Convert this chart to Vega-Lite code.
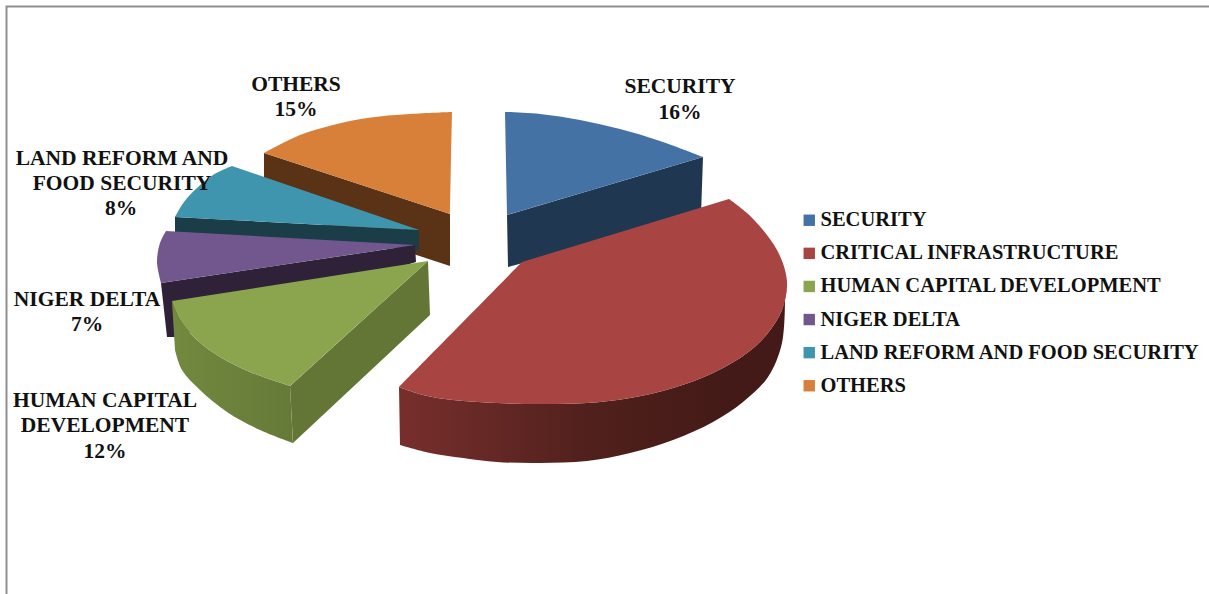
{
  "$schema": "https://vega.github.io/schema/vega-lite/v6.json",
  "width": 1209,
  "height": 594,
  "padding": 0,
  "autosize": "none",
  "background": "#ffffff",
  "view": {"stroke": null},
  "config": {"text": {"font": "Liberation Serif", "fontWeight": "bold", "fontSize": 21.5, "color": "#111111"}},
  "datasets": {
    "outlines": [
      {"part":"frame","n":1,"x":1209,"y":6.5},{"part":"frame","n":2,"x":6.5,"y":6.5},{"part":"frame","n":3,"x":6.5,"y":594},

      {"part":"others-side","n":1,"x":264,"y":153},{"part":"others-side","n":2,"x":450,"y":214},{"part":"others-side","n":3,"x":450,"y":266},{"part":"others-side","n":4,"x":264,"y":205},
      {"part":"others-top","slice":"OTHERS","n":1,"x":264,"y":153},{"part":"others-top","slice":"OTHERS","n":2,"x":300,"y":135},{"part":"others-top","slice":"OTHERS","n":3,"x":333,"y":125},{"part":"others-top","slice":"OTHERS","n":4,"x":367,"y":118},{"part":"others-top","slice":"OTHERS","n":5,"x":410,"y":114},{"part":"others-top","slice":"OTHERS","n":6,"x":452,"y":112},{"part":"others-top","slice":"OTHERS","n":7,"x":452,"y":112},{"part":"others-top","slice":"OTHERS","n":8,"x":450,"y":214},

      {"part":"security-side","n":1,"x":507,"y":215},{"part":"security-side","n":2,"x":703,"y":157},{"part":"security-side","n":3,"x":701,"y":215},{"part":"security-side","n":4,"x":508,"y":267},
      {"part":"security-top","slice":"SECURITY","n":1,"x":505,"y":112},{"part":"security-top","slice":"SECURITY","n":2,"x":540,"y":114},{"part":"security-top","slice":"SECURITY","n":3,"x":580,"y":120},{"part":"security-top","slice":"SECURITY","n":4,"x":620,"y":129},{"part":"security-top","slice":"SECURITY","n":5,"x":660,"y":141},{"part":"security-top","slice":"SECURITY","n":6,"x":703,"y":157},{"part":"security-top","slice":"SECURITY","n":7,"x":703,"y":157},{"part":"security-top","slice":"SECURITY","n":8,"x":507,"y":215},

      {"part":"land-side","n":1,"x":175,"y":217},{"part":"land-side","n":2,"x":419,"y":230},{"part":"land-side","n":3,"x":419,"y":250},{"part":"land-side","n":4,"x":175,"y":236},
      {"part":"land-top","slice":"LAND REFORM AND FOOD SECURITY","n":1,"x":232,"y":166},{"part":"land-top","slice":"LAND REFORM AND FOOD SECURITY","n":2,"x":213,"y":175},{"part":"land-top","slice":"LAND REFORM AND FOOD SECURITY","n":3,"x":197,"y":188},{"part":"land-top","slice":"LAND REFORM AND FOOD SECURITY","n":4,"x":184,"y":202},{"part":"land-top","slice":"LAND REFORM AND FOOD SECURITY","n":5,"x":175,"y":217},{"part":"land-top","slice":"LAND REFORM AND FOOD SECURITY","n":6,"x":175,"y":217},{"part":"land-top","slice":"LAND REFORM AND FOOD SECURITY","n":7,"x":419,"y":230},

      {"part":"niger-side","n":1,"x":161,"y":283},{"part":"niger-side","n":2,"x":415,"y":245},{"part":"niger-side","n":3,"x":416,"y":262},{"part":"niger-side","n":4,"x":175,"y":337},{"part":"niger-side","n":5,"x":167,"y":337},
      {"part":"niger-top","slice":"NIGER DELTA","n":1,"x":166,"y":231},{"part":"niger-top","slice":"NIGER DELTA","n":2,"x":160,"y":243},{"part":"niger-top","slice":"NIGER DELTA","n":3,"x":157,"y":262},{"part":"niger-top","slice":"NIGER DELTA","n":4,"x":161,"y":283},{"part":"niger-top","slice":"NIGER DELTA","n":5,"x":161,"y":283},{"part":"niger-top","slice":"NIGER DELTA","n":6,"x":415,"y":245},

      {"part":"human-front","n":1,"x":290,"y":386},{"part":"human-front","n":2,"x":428,"y":261},{"part":"human-front","n":3,"x":430,"y":315},{"part":"human-front","n":4,"x":293,"y":443},
      {"part":"human-rim","n":1,"x":172,"y":301},{"part":"human-rim","n":2,"x":180,"y":320},{"part":"human-rim","n":3,"x":197,"y":340},{"part":"human-rim","n":4,"x":220,"y":357},{"part":"human-rim","n":5,"x":250,"y":372},{"part":"human-rim","n":6,"x":290,"y":386},{"part":"human-rim","n":7,"x":290,"y":386},{"part":"human-rim","n":8,"x":293,"y":443},{"part":"human-rim","n":9,"x":293,"y":443},{"part":"human-rim","n":10,"x":260,"y":430},{"part":"human-rim","n":11,"x":227,"y":412},{"part":"human-rim","n":12,"x":200,"y":390},{"part":"human-rim","n":13,"x":182,"y":370},{"part":"human-rim","n":14,"x":175,"y":350},
      {"part":"human-top","slice":"HUMAN CAPITAL DEVELOPMENT","n":1,"x":172,"y":301},{"part":"human-top","slice":"HUMAN CAPITAL DEVELOPMENT","n":2,"x":180,"y":320},{"part":"human-top","slice":"HUMAN CAPITAL DEVELOPMENT","n":3,"x":197,"y":340},{"part":"human-top","slice":"HUMAN CAPITAL DEVELOPMENT","n":4,"x":220,"y":357},{"part":"human-top","slice":"HUMAN CAPITAL DEVELOPMENT","n":5,"x":250,"y":372},{"part":"human-top","slice":"HUMAN CAPITAL DEVELOPMENT","n":6,"x":290,"y":386},{"part":"human-top","slice":"HUMAN CAPITAL DEVELOPMENT","n":7,"x":290,"y":386},{"part":"human-top","slice":"HUMAN CAPITAL DEVELOPMENT","n":8,"x":428,"y":261},

      {"part":"critical-rim","n":1,"x":399,"y":387},{"part":"critical-rim","n":2,"x":423,"y":395},{"part":"critical-rim","n":3,"x":453,"y":400},{"part":"critical-rim","n":4,"x":497,"y":403},{"part":"critical-rim","n":5,"x":540,"y":404},{"part":"critical-rim","n":6,"x":587,"y":403},{"part":"critical-rim","n":7,"x":630,"y":398},{"part":"critical-rim","n":8,"x":673,"y":388},{"part":"critical-rim","n":9,"x":713,"y":373},{"part":"critical-rim","n":10,"x":747,"y":353},{"part":"critical-rim","n":11,"x":768,"y":333},{"part":"critical-rim","n":12,"x":782,"y":310},{"part":"critical-rim","n":13,"x":787,"y":287},{"part":"critical-rim","n":14,"x":787,"y":287},{"part":"critical-rim","n":15,"x":785,"y":297},{"part":"critical-rim","n":16,"x":785,"y":297},{"part":"critical-rim","n":17,"x":782,"y":343},{"part":"critical-rim","n":18,"x":768,"y":377},{"part":"critical-rim","n":19,"x":743,"y":402},{"part":"critical-rim","n":20,"x":713,"y":422},{"part":"critical-rim","n":21,"x":673,"y":440},{"part":"critical-rim","n":22,"x":630,"y":453},{"part":"critical-rim","n":23,"x":587,"y":461},{"part":"critical-rim","n":24,"x":540,"y":463},{"part":"critical-rim","n":25,"x":497,"y":462},{"part":"critical-rim","n":26,"x":463,"y":458},{"part":"critical-rim","n":27,"x":430,"y":453},{"part":"critical-rim","n":28,"x":400,"y":445},
      {"part":"critical-top","slice":"CRITICAL INFRASTRUCTURE","n":1,"x":729,"y":199},{"part":"critical-top","slice":"CRITICAL INFRASTRUCTURE","n":2,"x":747,"y":213},{"part":"critical-top","slice":"CRITICAL INFRASTRUCTURE","n":3,"x":763,"y":230},{"part":"critical-top","slice":"CRITICAL INFRASTRUCTURE","n":4,"x":777,"y":250},{"part":"critical-top","slice":"CRITICAL INFRASTRUCTURE","n":5,"x":785,"y":270},{"part":"critical-top","slice":"CRITICAL INFRASTRUCTURE","n":6,"x":787,"y":287},{"part":"critical-top","slice":"CRITICAL INFRASTRUCTURE","n":7,"x":782,"y":310},{"part":"critical-top","slice":"CRITICAL INFRASTRUCTURE","n":8,"x":768,"y":333},{"part":"critical-top","slice":"CRITICAL INFRASTRUCTURE","n":9,"x":747,"y":353},{"part":"critical-top","slice":"CRITICAL INFRASTRUCTURE","n":10,"x":713,"y":373},{"part":"critical-top","slice":"CRITICAL INFRASTRUCTURE","n":11,"x":673,"y":388},{"part":"critical-top","slice":"CRITICAL INFRASTRUCTURE","n":12,"x":630,"y":398},{"part":"critical-top","slice":"CRITICAL INFRASTRUCTURE","n":13,"x":587,"y":403},{"part":"critical-top","slice":"CRITICAL INFRASTRUCTURE","n":14,"x":540,"y":404},{"part":"critical-top","slice":"CRITICAL INFRASTRUCTURE","n":15,"x":497,"y":403},{"part":"critical-top","slice":"CRITICAL INFRASTRUCTURE","n":16,"x":453,"y":400},{"part":"critical-top","slice":"CRITICAL INFRASTRUCTURE","n":17,"x":423,"y":395},{"part":"critical-top","slice":"CRITICAL INFRASTRUCTURE","n":18,"x":399,"y":387},{"part":"critical-top","slice":"CRITICAL INFRASTRUCTURE","n":19,"x":399,"y":387},{"part":"critical-top","slice":"CRITICAL INFRASTRUCTURE","n":20,"x":522,"y":262},{"part":"critical-top","slice":"CRITICAL INFRASTRUCTURE","n":21,"x":522,"y":262}
    ],
    "labels": [
      {"label":"SECURITY","x":680,"y":87},{"label":"16%","x":680,"y":113},
      {"label":"OTHERS","x":296,"y":85},{"label":"15%","x":296,"y":110},
      {"label":"LAND REFORM AND","x":122,"y":159},{"label":"FOOD SECURITY","x":122,"y":184},{"label":"8%","x":121,"y":209},
      {"label":"NIGER DELTA","x":87,"y":300},{"label":"7%","x":87,"y":325},
      {"label":"HUMAN CAPITAL","x":105,"y":401},{"label":"DEVELOPMENT","x":105,"y":426},{"label":"12%","x":105,"y":452}
    ]
  },
  "data": {"name": "outlines"},
  "encoding": {
    "x": {"field": "x", "type": "quantitative", "axis": null, "scale": {"domain": [0, 1209], "nice": false, "zero": false}},
    "y": {"field": "y", "type": "quantitative", "axis": null, "scale": {"domain": [594, 0], "nice": false, "zero": false}},
    "order": {"field": "n", "type": "quantitative"}
  },
  "layer": [
    {"transform": [{"filter": "datum.part === 'frame'"}], "mark": {"type": "line", "stroke": "#8f8f8f", "strokeWidth": 2}},
    {"transform": [{"filter": "datum.part === 'others-side'"}], "mark": {"type": "line", "fill": "#5a3216", "stroke": null}},
    {"transform": [{"filter": "datum.part === 'others-top'"}], "mark": {"type": "line", "interpolate": "catmull-rom", "stroke": null, "fill": "#d8803a"}},
    {"transform": [{"filter": "datum.part === 'security-side'"}], "mark": {"type": "line", "fill": "#203752", "stroke": null}},
    {"transform": [{"filter": "datum.part === 'land-side'"}], "mark": {"type": "line", "fill": "#1b3d48", "stroke": null}},
    {"transform": [{"filter": "datum.part === 'land-top'"}], "mark": {"type": "line", "interpolate": "catmull-rom", "stroke": null, "fill": "#3f95ae"}},
    {"transform": [{"filter": "datum.part === 'niger-side'"}], "mark": {"type": "line", "fill": "#2e2138", "stroke": null}},
    {"transform": [{"filter": "datum.part === 'niger-top'"}], "mark": {"type": "line", "interpolate": "catmull-rom", "stroke": null, "fill": "#72578f"}},
    {"transform": [{"filter": "datum.part === 'human-front'"}], "mark": {"type": "line", "fill": "#637636", "stroke": null}},
    {"transform": [{"filter": "datum.part === 'human-rim'"}], "mark": {"type": "line", "interpolate": "catmull-rom", "stroke": null, "fill": {"gradient": "linear", "x1": 0, "y1": 0, "x2": 1, "y2": 0, "stops": [{"offset": 0, "color": "#72893f"}, {"offset": 1, "color": "#667a38"}]}}},
    {"transform": [{"filter": "datum.part === 'human-top'"}], "mark": {"type": "line", "interpolate": "catmull-rom", "stroke": null, "fill": "#8aa54d"}},
    {"transform": [{"filter": "datum.part === 'critical-rim'"}], "mark": {"type": "line", "interpolate": "catmull-rom", "stroke": null, "fill": {"gradient": "linear", "x1": 0, "y1": 0, "x2": 1, "y2": 0, "stops": [{"offset": 0, "color": "#772f2d"}, {"offset": 0.5, "color": "#50201c"}, {"offset": 0.85, "color": "#431a17"}, {"offset": 1, "color": "#431a17"}]}}},
    {
      "transform": [{"filter": "datum.part === 'security-top' || datum.part === 'critical-top'"}],
      "mark": {"type": "line", "interpolate": "catmull-rom", "stroke": null},
      "encoding": {
        "fill": {
          "field": "slice",
          "type": "nominal",
          "scale": {
            "domain": ["SECURITY", "CRITICAL INFRASTRUCTURE", "HUMAN CAPITAL DEVELOPMENT", "NIGER DELTA", "LAND REFORM AND FOOD SECURITY", "OTHERS"],
            "range": ["#4472a4", "#a84442", "#8aa54d", "#72578f", "#3f95ae", "#d8803a"]
          },
          "legend": {
            "orient": "none",
            "legendX": 799,
            "legendY": 210,
            "title": null,
            "symbolType": "square",
            "symbolSize": 130,
            "symbolStrokeWidth": 0,
            "labelFont": "Liberation Serif",
            "labelFontWeight": "bold",
            "labelFontSize": 20.5,
            "labelColor": "#111111",
            "labelLimit": 500,
            "labelOffset": 1,
            "rowPadding": 12.1
          }
        }
      }
    },
    {
      "data": {"name": "labels"},
      "mark": {"type": "text", "align": "center", "baseline": "middle"},
      "encoding": {
        "text": {"field": "label", "type": "nominal"},
        "order": {"value": null}
      }
    }
  ]
}
